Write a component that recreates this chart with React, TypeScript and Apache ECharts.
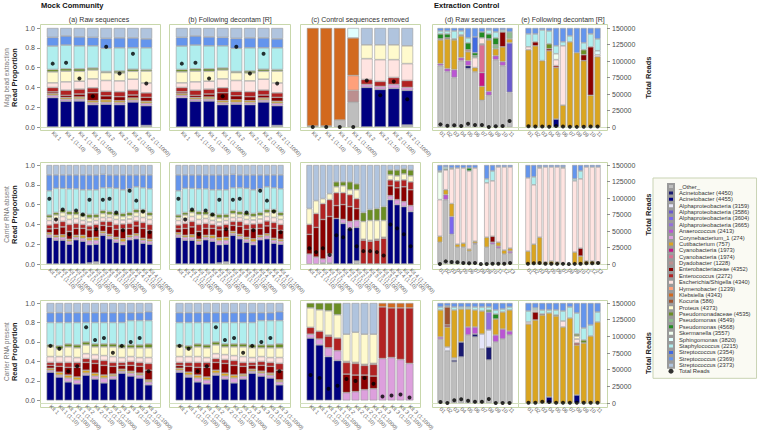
import React, { useEffect, useRef } from "react";
import * as echarts from "echarts";

// ---------- taxa & colours ----------
const TAXA = [
  "_Other_", "Acinetobacter (4450)", "Acinetobacter (4455)", "Alphaproteobacteria (3159)",
  "Alphaproteobacteria (3586)", "Alphaproteobacteria (3604)", "Alphaproteobacteria (3665)",
  "Anaerococcus (2413)", "Corynebacterium_1 (274)", "Cutibacterium (757)", "Cyanobacteria (1973)",
  "Cyanobacteria (1974)", "Dyadobacter (1228)", "Enterobacteriaceae (4352)", "Enterococcus (2272)",
  "Escherichia/Shigella (4340)", "Hymenobacter (1239)", "Klebsiella (4343)", "Kocuria (586)",
  "Proteus (4373)", "Pseudomonadaceae (4535)", "Pseudomonas (4549)", "Pseudomonas (4568)",
  "Skermanella (3557)", "Sphingomonas (3820)", "Staphylococcus (2215)", "Streptococcus (2354)",
  "Streptococcus (2369)", "Streptococcus (2373)",
];
const TAXON_COLORS = [
  "#bebebe", "#191970", "#000080", "#e6e6fa", "#6a5acd", "#7b68ee", "#9370db", "#ba55d3",
  "#dda0dd", "#daa520", "#c71585", "#db7093", "#bc8f8f", "#8b0000", "#b22222", "#ffe4e1",
  "#ffa07a", "#d2691e", "#a0522d", "#fffacd", "#6b8e23", "#8fbc8f", "#228b22", "#f0fff0",
  "#e0ffff", "#afeeee", "#4169e1", "#6495ed", "#b0c4de",
];

// ---------- category labels ----------
const KIT8 = ["Kit 1", "Kit 1 (1:10)", "Kit 1 (1:100)", "Kit 1 (1:1000)", "Kit 2", "Kit 2 (1:10)", "Kit 2 (1:100)", "Kit 2 (1:1000)"];
const KIT16 = ["Kit 1", "Kit 1 (1:10)", "Kit 1 (1:100)", "Kit 1 (1:1000)", "Kit 2", "Kit 2 (1:10)", "Kit 2 (1:100)", "Kit 2 (1:1000)",
  "Kit 3", "Kit 3 (1:10)", "Kit 3 (1:100)", "Kit 3 (1:1000)", "Kit 4", "Kit 4 (1:10)", "Kit 4 (1:100)", "Kit 4 (1:1000)"];
const KIT12 = ["Kit 1", "Kit 1 (1:10)", "Kit 1 (1:100)", "Kit 1 (1:1000)", "Kit 2", "Kit 2 (1:10)", "Kit 2 (1:100)", "Kit 2 (1:1000)",
  "Kit 3", "Kit 3 (1:10)", "Kit 3 (1:100)", "Kit 3 (1:1000)"];
const EXT11 = ["01", "02", "03", "04", "05", "06", "07", "08", "09", "10", "11"];
const EXT13 = ["01", "02", "03", "04", "05", "06", "07", "08", "09", "10", "11", "12", "13"];

// ---------- mock community (a)/(b) ----------
const MOCK_KEYS = ["_Other_", "Acinetobacter (4455)", "Corynebacterium_1 (274)", "Cutibacterium (757)",
  "Enterobacteriaceae (4352)", "Enterococcus (2272)", "Escherichia/Shigella (4340)", "Proteus (4373)",
  "Pseudomonadaceae (4535)", "Staphylococcus (2215)", "Streptococcus (2369)", "Streptococcus (2373)"];

const MAG_MOCK = [
  [0, .297, .024, .017, .017, .044, .047, .111, .024, .237, .087, .095],
  [0, .26, .02, .017, .023, .052, .084, .108, .024, .24, .091, .081],
  [0, .263, .02, .02, .03, .05, .08, .1, .025, .232, .09, .09],
  [0, .226, .02, .02, .08, .05, .09, .09, .02, .224, .085, .095],
  [0, .23, .02, .025, .04, .045, .11, .08, .01, .235, .1, .105],
  [0, .226, .02, .02, .04, .05, .11, .08, .02, .234, .1, .1],
  [0, .253, .02, .02, .03, .05, .11, .08, .02, .217, .1, .1],
  [.015, .2, .025, .02, .04, .045, .1, .12, .015, .22, .09, .11],
];
const MAG_MOCK_READS = [96000, 97500, 73500, 46500, 121500, 81000, 111000, 66000];

const ABSENT_MOCK = [
  [0, .27, .025, .02, .04, .04, .045, .03, .025, .245, .16, .1],
  [0, .24, .03, .02, .07, .05, .05, .035, .025, .245, .135, .1],
  [0, .24, .03, .025, .08, .055, .05, .04, .03, .215, .135, .1],
  [0, .2, .03, .02, .08, .07, .05, .05, .03, .23, .14, .1],
  [0, .245, .025, .02, .07, .05, .05, .04, .03, .23, .14, .1],
  [0, .23, .03, .03, .07, .04, .04, .04, .03, .24, .15, .1],
  [.01, .185, .04, .03, .08, .04, .04, .04, .035, .25, .15, .1],
  [.02, .18, .04, .03, .08, .05, .04, .03, .03, .25, .15, .1],
  [0, .29, .02, .02, .06, .04, .04, .04, .03, .23, .135, .095],
  [0, .255, .025, .02, .08, .05, .04, .03, .03, .24, .13, .1],
  [0, .22, .03, .02, .08, .05, .05, .04, .03, .245, .135, .1],
  [0, .195, .03, .03, .1, .05, .04, .035, .03, .24, .15, .1],
  [0, .245, .025, .02, .07, .05, .045, .035, .03, .24, .14, .1],
  [0, .255, .03, .02, .08, .05, .045, .04, .03, .23, .12, .1],
  [0, .21, .03, .02, .1, .06, .05, .05, .03, .22, .13, .1],
  [0, .2, .03, .02, .09, .06, .05, .04, .03, .24, .14, .1],
];
const ABSENT_MOCK_READS = [99000, 67500, 82500, 45000, 81000, 75000, 97500, 52500, 97500, 99000, 78000, 51000, 111000, 96000, 79500, 48000];

const PRESENT_MOCK = [
  [0, .29, .02, .02, .03, .03, .06, .1, .02, .23, .1, .1],
  [0, .24, .02, .03, .06, .04, .06, .08, .03, .24, .1, .1],
  [0, .19, .04, .03, .08, .05, .06, .1, .03, .22, .1, .1],
  [0, .17, .04, .03, .1, .05, .05, .1, .03, .23, .1, .1],
  [0, .26, .02, .03, .08, .04, .05, .09, .03, .2, .1, .1],
  [0, .22, .03, .03, .1, .04, .05, .08, .03, .22, .1, .1],
  [0, .18, .05, .03, .1, .05, .05, .09, .03, .22, .1, .1],
  [0, .22, .03, .02, .08, .04, .06, .1, .03, .22, .1, .1],
  [0, .28, .02, .02, .04, .03, .05, .1, .03, .23, .1, .1],
  [0, .25, .03, .02, .06, .04, .05, .09, .03, .25, .08, .1],
  [0, .23, .03, .02, .07, .04, .05, .1, .03, .25, .08, .1],
  [0, .16, .03, .02, .1, .07, .06, .1, .04, .24, .09, .09],
];
const PRESENT_MOCK_READS = [84000, 79500, 45000, 52500, 112500, 93000, 96000, 73500, 84000, 90000, 96000, 45000];

// ---------- mock community (c) control sequences removed ----------
const MAG_CTRL_KEYS = ["_Other_", "Acinetobacter (4455)", "Corynebacterium_1 (274)", "Dyadobacter (1228)",
  "Enterococcus (2272)", "Escherichia/Shigella (4340)", "Hymenobacter (1239)", "Klebsiella (4343)",
  "Proteus (4373)", "Sphingomonas (3820)", "Streptococcus (2373)"];
const MAG_CTRL = [
  [.01, 0, 0, 0, 0, 0, 0, .99, 0, 0, 0],
  [.01, 0, 0, 0, 0, 0, 0, .99, 0, 0, 0],
  [.07, 0, 0, 0, 0, 0, 0, .93, 0, 0, 0],
  [.25, 0, 0, .12, 0, 0, .15, .38, 0, .1, 0],
  [0, .4, .03, 0, .05, .21, 0, 0, .14, 0, .17],
  [0, .38, .03, 0, .05, .22, 0, 0, .15, 0, .17],
  [0, .39, .04, 0, .07, .18, 0, 0, .15, 0, .17],
  [.02, .35, .03, 0, .07, .17, 0, 0, .18, 0, .18],
];
const MAG_CTRL_READS = [0, 0, 0, 0, 70500, 48000, 69000, 42000];

const ABSENT_CTRL_KEYS = ["_Other_", "Acinetobacter (4455)", "Corynebacterium_1 (274)", "Enterobacteriaceae (4352)",
  "Enterococcus (2272)", "Klebsiella (4343)", "Proteus (4373)", "Pseudomonadaceae (4535)", "Streptococcus (2373)"];
const ABSENT_CTRL = [
  [0, 0, .1, .2, .1, 0, .16, 0, .44],
  [0, 0, .07, .3, .14, 0, .13, 0, .36],
  [.01, 0, .04, .4, .16, 0, .05, 0, .34],
  [.01, 0, .09, .38, .17, 0, .06, 0, .29],
  [0, .46, 0, .13, .13, 0, .06, .05, .17],
  [0, .41, .04, .15, .12, 0, .07, .04, .17],
  [0, .36, .07, .15, .12, 0, .05, .08, .17],
  [.03, .34, .07, .12, .1, 0, .09, .06, .19],
  [0, 0, 0, 0, .24, .01, .18, .09, .48],
  [0, 0, 0, 0, .23, .01, .2, .11, .45],
  [0, 0, 0, 0, .24, .01, .19, .12, .44],
  [0, 0, 0, 0, .26, .01, .17, .14, .42],
  [0, .65, .04, .1, .06, 0, .05, .05, .05],
  [0, .6, .05, .12, .07, 0, .05, .06, .05],
  [0, .58, .05, .15, .07, 0, .06, .05, .04],
  [0, .53, .06, .16, .08, 0, .06, .06, .05],
];
const ABSENT_CTRL_READS = [24000, 18000, 24000, 13500, 43500, 40500, 52500, 27000, 19500, 19500, 18000, 12750, 60000, 54000, 45000, 27000];

const PRESENT_CTRL_KEYS = ["Acinetobacter (4455)", "Corynebacterium_1 (274)", "Enterobacteriaceae (4352)",
  "Enterococcus (2272)", "Klebsiella (4343)", "Proteus (4373)", "Pseudomonadaceae (4535)", "Streptococcus (2373)"];
const PRESENT_CTRL = [
  [.64, .04, 0, .07, 0, .2, .05, 0],
  [.57, .06, 0, .08, 0, .22, .07, 0],
  [.45, .09, 0, .12, .01, .25, .08, 0],
  [.41, .1, 0, .13, 0, .24, .12, 0],
  [0, .08, .19, .12, .01, .28, 0, .32],
  [0, .09, .17, .12, .01, .31, 0, .3],
  [0, .11, .15, .1, .01, .31, 0, .32],
  [0, .12, .13, .12, .01, .3, 0, .32],
  [0, .43, 0, .53, .04, 0, 0, 0],
  [0, .44, 0, .51, .05, 0, 0, 0],
  [0, .42, 0, .53, .05, 0, 0, 0],
  [0, .38, 0, .57, .05, 0, 0, 0],
];
const PRESENT_CTRL_READS = [39000, 34500, 18000, 22500, 33000, 30000, 34500, 25500, 6000, 7500, 9000, 4500];

// ---------- extraction control (d) raw ----------
const MAG_EXT_KEYS = ["_Other_", "Acinetobacter (4450)", "Alphaproteobacteria (3586)", "Anaerococcus (2413)",
  "Cutibacterium (757)", "Cyanobacteria (1973)", "Cyanobacteria (1974)", "Dyadobacter (1228)",
  "Enterobacteriaceae (4352)", "Escherichia/Shigella (4340)", "Pseudomonadaceae (4535)", "Pseudomonas (4549)",
  "Pseudomonas (4568)", "Staphylococcus (2215)", "Streptococcus (2354)", "Streptococcus (2369)"];
const MAG_EXT = [
  [.62, 0, 0, .02, .24, 0, 0, .01, 0, 0, 0, 0, .05, .03, 0, .03],
  [.56, 0, 0, .03, .3, 0, 0, 0, .01, 0, 0, 0, .04, .03, 0, .03],
  [.5, 0, 0, .08, .3, 0, 0, 0, 0, 0, .01, 0, 0, .08, 0, .03],
  [.67, 0, 0, .03, .22, 0, 0, .01, 0, 0, 0, 0, 0, .04, 0, .03],
  [.59, .03, 0, .05, .09, 0, 0, .02, 0, 0, 0, 0, .07, .05, 0, .1],
  [.557, 0, 0, 0, .043, 0, 0, 0, 0, .1, 0, .02, .03, 0, .16, .09],
  [.27, 0, 0, 0, .14, .14, .28, .01, 0, .06, 0, 0, .06, 0, 0, .04],
  [.32, 0, 0, .04, .52, 0, 0, .01, 0, 0, 0, 0, .05, .04, 0, .02],
  [.68, 0, 0, .04, .07, 0, 0, 0, 0, 0, 0, .04, .07, .06, 0, .04],
  [.62, 0, 0, .04, .15, 0, 0, 0, .15, 0, 0, 0, 0, .02, 0, .02],
  [.35, 0, .5, 0, .04, 0, 0, 0, 0, 0, 0, .07, 0, 0, 0, .04],
];
const MAG_EXT_READS = [4000, 2000, 2500, 1500, 5000, 3000, 3000, 0, 1000, 1500, 9000];

const ABSENT_EXT_KEYS = ["_Other_", "Alphaproteobacteria (3604)", "Anaerococcus (2413)", "Cutibacterium (757)",
  "Enterobacteriaceae (4352)", "Escherichia/Shigella (4340)", "Pseudomonas (4568)", "Skermanella (3557)",
  "Staphylococcus (2215)", "Streptococcus (2369)"];
const ABSENT_EXT = [
  [.22, 0, 0, .06, 0, .37, 0, .28, .01, .06],
  [.65, 0, .05, .05, 0, .2, .01, 0, .02, .02],
  [.3, .18, 0, .13, 0, .35, 0, 0, .01, .03],
  [.17, 0, 0, .03, 0, .77, 0, 0, 0, .03],
  [.17, 0, 0, .04, 0, .76, 0, 0, 0, .03],
  [.13, 0, 0, .02, 0, .79, .03, 0, 0, .03],
  [.2, 0, .01, .02, 0, .74, 0, 0, 0, .03],
  [0, 0, 0, 0, 0, 0, 0, 0, 0, 0],
  [.17, 0, 0, .1, 0, .55, 0, 0, .04, .14],
  [.2, 0, .02, 0, .06, .56, 0, 0, .1, .06],
  [.16, 0, .02, .04, 0, .76, 0, 0, 0, .02],
  [.1, 0, 0, .04, 0, .84, 0, 0, 0, .02],
  [.11, 0, .02, .03, 0, .82, 0, 0, 0, .02],
];
const ABSENT_EXT_READS = [0, 4000, 3000, 2500, 1500, 1000, 1500, 0, 0, 500, 500, 500, 1500];

const PRESENT_EXT_KEYS = ["_Other_", "Acinetobacter (4450)", "Alphaproteobacteria (3159)", "Alphaproteobacteria (3665)",
  "Anaerococcus (2413)", "Cutibacterium (757)", "Enterobacteriaceae (4352)", "Kocuria (586)",
  "Pseudomonas (4568)", "Staphylococcus (2215)", "Streptococcus (2369)"];
const PRESENT_EXT = [
  [.64, 0, 0, 0, .02, .27, 0, 0, 0, .03, .04],
  [.52, 0, .04, 0, 0, .2, .02, .18, 0, .01, .03],
  [.41, .02, .02, 0, 0, .48, 0, 0, 0, .03, .04],
  [.46, .15, 0, 0, 0, .33, 0, 0, 0, .02, .04],
  [.68, 0, 0, 0, .08, .18, 0, 0, 0, .02, .04],
  [.66, .03, 0, 0, .07, .17, 0, 0, 0, .03, .04],
  [.54, 0, .15, 0, 0, .23, 0, 0, 0, .04, .04],
  [.43, .13, .17, .18, 0, 0, 0, 0, .02, .03, .04],
  [.61, 0, 0, 0, .07, .16, 0, 0, .05, .04, .07],
  [.64, 0, 0, 0, .1, .17, 0, 0, 0, .03, .06],
  [.68, 0, 0, 0, .04, .21, 0, 0, 0, .03, .04],
];
const PRESENT_EXT_READS = [1500, 0, 4000, 5500, 3500, 2000, 2000, 6000, 0, 0, 0];

// ---------- extraction control (e) following decontam ----------
const MAG_DEC_KEYS = ["Acinetobacter (4455)", "Cutibacterium (757)", "Enterobacteriaceae (4352)", "Enterococcus (2272)",
  "Escherichia/Shigella (4340)", "Pseudomonadaceae (4535)", "Skermanella (3557)", "Sphingomonas (3820)",
  "Staphylococcus (2215)", "Streptococcus (2369)"];
const MAG_DEC = [
  [0, .78, 0, 0, .03, 0, 0, 0, .13, .06],
  [0, .82, .04, 0, 0, 0, 0, 0, .08, .06],
  [0, .67, 0, 0, 0, 0, 0, 0, .31, .02],
  [0, .77, .02, 0, 0, .05, 0, 0, .13, .03],
  [.08, .52, 0, .02, .06, 0, .06, 0, .08, .18],
  [0, .22, 0, 0, .6, 0, 0, 0, .04, .14],
  [0, .86, 0, 0, 0, 0, 0, 0, .06, .08],
  [0, .75, 0, 0, 0, 0, 0, 0, 0, .25],
  [0, .67, .06, 0, 0, .05, 0, 0, .07, .15],
  [0, .32, .49, 0, 0, 0, 0, 0, .13, .06],
  [0, .71, 0, 0, .02, 0, 0, .04, .12, .11],
];
const MAG_DEC_READS = [1000, 800, 800, 500, 1500, 800, 500, 200, 300, 800, 600];

const ABSENT_DEC_KEYS = ["Cutibacterium (757)", "Enterobacteriaceae (4352)", "Escherichia/Shigella (4340)",
  "Staphylococcus (2215)", "Streptococcus (2369)"];
const ABSENT_DEC = [
  [.13, 0, .74, 0, .13],
  [.2, 0, .6, .08, .12],
  [.27, 0, .7, .01, .02],
  [.02, 0, .96, 0, .02],
  [.03, 0, .95, 0, .02],
  [.02, 0, .96, 0, .02],
  [.01, 0, .96, .01, .02],
  [0, 0, 0, 0, 0],
  [.12, 0, .72, .02, .14],
  [.08, .08, .7, .08, .06],
  [.03, 0, .95, 0, .02],
  [.03, 0, .95, 0, .02],
  [.02, 0, .96, 0, .02],
];
const ABSENT_DEC_READS = [500, 1000, 1500, 500, 500, 200, 200, 0, 200, 500, 1000, 1000, 1500];

const PRESENT_DEC_KEYS = ["Acinetobacter (4455)", "Cutibacterium (757)", "Enterobacteriaceae (4352)", "Enterococcus (2272)",
  "Escherichia/Shigella (4340)", "Proteus (4373)", "Pseudomonadaceae (4535)", "Staphylococcus (2215)", "Streptococcus (2369)"];
const PRESENT_DEC = [
  [0, .79, 0, 0, .02, 0, 0, .11, .08],
  [0, .83, .08, 0, .02, 0, 0, .02, .05],
  [0, .88, .01, 0, 0, 0, 0, .04, .07],
  [.06, .84, 0, 0, 0, 0, 0, .03, .07],
  [0, .87, 0, 0, 0, 0, .01, .05, .07],
  [0, .76, 0, 0, .06, 0, 0, .1, .08],
  [0, .85, 0, 0, 0, 0, 0, .11, .04],
  [.08, .5, 0, .02, .04, .03, .02, .21, .1],
  [0, .6, 0, 0, 0, 0, .03, .12, .25],
  [0, .67, 0, 0, 0, 0, 0, .11, .22],
  [0, .81, 0, 0, 0, 0, 0, .1, .09],
];
const PRESENT_DEC_READS = [500, 500, 2000, 1500, 500, 500, 500, 500, 500, 500, 500];

// ---------- text ----------
const ROW_NAMES = ["Mag bead extraction", "Carrier RNA absent", "Carrier RNA present"];
const PANEL_TITLES = ["(a) Raw sequences", "(b) Following decontam [R]", "(c) Control sequences removed", "(d) Raw sequences", "(e) Following decontam [R]"];

// ---------- layout (pixels) ----------
const GRID_ROWS = [[28, 127], [165, 264], [303, 403]];
const GRID_COLS = [[46, 153], [175, 284], [306, 414], [437, 513], [525, 601]];
const FRAME_ROWS = [[24, 130], [162, 269], [300, 407]];
const FRAME_COLS = [[40, 160], [169, 290], [300, 420], [432, 518], [518, 607]];
const TITLE_X = [99, 230, 360, 475, 563];

type Panel = { keys: string[]; rows: number[][]; reads: number[]; labels: string[] };

const PANELS: Panel[][] = [
  [
    { keys: MOCK_KEYS, rows: MAG_MOCK, reads: MAG_MOCK_READS, labels: KIT8 },
    { keys: MOCK_KEYS, rows: MAG_MOCK, reads: MAG_MOCK_READS, labels: KIT8 },
    { keys: MAG_CTRL_KEYS, rows: MAG_CTRL, reads: MAG_CTRL_READS, labels: KIT8 },
    { keys: MAG_EXT_KEYS, rows: MAG_EXT, reads: MAG_EXT_READS, labels: EXT11 },
    { keys: MAG_DEC_KEYS, rows: MAG_DEC, reads: MAG_DEC_READS, labels: EXT11 },
  ],
  [
    { keys: MOCK_KEYS, rows: ABSENT_MOCK, reads: ABSENT_MOCK_READS, labels: KIT16 },
    { keys: MOCK_KEYS, rows: ABSENT_MOCK, reads: ABSENT_MOCK_READS, labels: KIT16 },
    { keys: ABSENT_CTRL_KEYS, rows: ABSENT_CTRL, reads: ABSENT_CTRL_READS, labels: KIT16 },
    { keys: ABSENT_EXT_KEYS, rows: ABSENT_EXT, reads: ABSENT_EXT_READS, labels: EXT13 },
    { keys: ABSENT_DEC_KEYS, rows: ABSENT_DEC, reads: ABSENT_DEC_READS, labels: EXT13 },
  ],
  [
    { keys: MOCK_KEYS, rows: PRESENT_MOCK, reads: PRESENT_MOCK_READS, labels: KIT12 },
    { keys: MOCK_KEYS, rows: PRESENT_MOCK, reads: PRESENT_MOCK_READS, labels: KIT12 },
    { keys: PRESENT_CTRL_KEYS, rows: PRESENT_CTRL, reads: PRESENT_CTRL_READS, labels: KIT12 },
    { keys: PRESENT_EXT_KEYS, rows: PRESENT_EXT, reads: PRESENT_EXT_READS, labels: EXT11 },
    { keys: PRESENT_DEC_KEYS, rows: PRESENT_DEC, reads: PRESENT_DEC_READS, labels: EXT11 },
  ],
];

const FONT = "Liberation Sans, Arial, Helvetica, sans-serif";
const FRAME_COLOR = "#c8d7ab";

function colorOf(name: string) {
  return TAXON_COLORS[TAXA.indexOf(name)];
}

function buildOption() {
  const grid: any[] = [];
  const xAxis: any[] = [];
  const yAxis: any[] = [];
  const series: any[] = [];
  const graphic: any[] = [];

  PANELS.forEach((row, r) => {
    row.forEach((p, c) => {
      const gi = r * 5 + c;
      grid.push({
        left: GRID_COLS[c][0], width: GRID_COLS[c][1] - GRID_COLS[c][0],
        top: GRID_ROWS[r][0], height: GRID_ROWS[r][1] - GRID_ROWS[r][0],
      });
      xAxis.push({
        gridIndex: gi, type: "category", data: p.labels,
        axisLine: { show: false }, axisTick: { show: false },
        axisLabel: { rotate: -45, fontSize: 5.5, color: "#666", interval: 0, margin: 5, hideOverlap: false },
      });
      yAxis.push({
        gridIndex: gi, type: "value", min: 0, max: 1, interval: 0.2, show: c === 0,
        position: "left", offset: 6,
        axisLine: { show: false },
        axisTick: { show: true, length: 3, lineStyle: { color: "#777", width: 0.8 } },
        axisLabel: { fontSize: 7, color: "#4d4d4d", margin: 5, formatter: (v: number) => v.toFixed(1) },
        splitLine: { show: false },
        name: c === 0 ? `{a|${ROW_NAMES[r]}}\n{b|Read Proportion}` : "",
        nameLocation: "middle", nameGap: 21,
        nameTextStyle: {
          rich: {
            a: { fontSize: 6.5, color: "#777", lineHeight: 8, fontFamily: FONT },
            b: { fontSize: 7.5, color: "#222", fontWeight: "bold", lineHeight: 9, fontFamily: FONT },
          },
        },
      });
      yAxis.push({
        gridIndex: gi, type: "value", min: 0, max: 150000, interval: 25000, show: c === 4,
        position: "right", offset: 6,
        axisLine: { show: false },
        axisTick: { show: true, length: 3, lineStyle: { color: "#777", width: 0.8 } },
        axisLabel: { fontSize: 7, color: "#4d4d4d", margin: 5, formatter: (v: number) => String(v) },
        splitLine: { show: false },
        name: c === 4 ? "Total Reads" : "",
        nameLocation: "middle", nameGap: 37,
        nameTextStyle: { fontSize: 7.5, fontWeight: "bold", color: "#222", fontFamily: FONT },
      });
      p.keys.forEach((k, j) => {
        series.push({
          type: "bar", name: k, xAxisIndex: gi, yAxisIndex: 2 * gi, stack: "s" + gi,
          barCategoryGap: "13%",
          data: p.rows.map((rw) => (rw[j] ? rw[j] : null)),
          itemStyle: { color: colorOf(k), borderColor: "#9a9a9a", borderWidth: 0.6 },
          emphasis: { disabled: true },
        });
      });
      series.push({
        type: "scatter", name: "Total Reads", xAxisIndex: gi, yAxisIndex: 2 * gi + 1,
        data: p.reads, symbolSize: 4, itemStyle: { color: "#000" }, z: 5,
      });

      // panel frame and baseline
      graphic.push({
        type: "rect", silent: true, z: 0,
        shape: { x: FRAME_COLS[c][0] + 0.5, y: FRAME_ROWS[r][0] + 0.5, width: FRAME_COLS[c][1] - FRAME_COLS[c][0], height: FRAME_ROWS[r][1] - FRAME_ROWS[r][0] },
        style: { fill: "none", stroke: FRAME_COLOR, lineWidth: 1 },
      });
      graphic.push({
        type: "line", silent: true, z: 0,
        shape: { x1: FRAME_COLS[c][0], y1: GRID_ROWS[r][1] + 0.5, x2: FRAME_COLS[c][1], y2: GRID_ROWS[r][1] + 0.5 },
        style: { stroke: "#d3dfbf", lineWidth: 1 },
      });
    });
  });

  PANEL_TITLES.forEach((t, c) => {
    graphic.push({
      type: "text", x: TITLE_X[c], y: 19, silent: true,
      style: { text: t, fontSize: 7, fill: "#333", textAlign: "center", textVerticalAlign: "middle", fontFamily: FONT },
    });
  });
  graphic.push({
    type: "text", x: 41, y: 5, silent: true,
    style: { text: "Mock Community", fontSize: 7.5, fontWeight: "bold", fill: "#111", textVerticalAlign: "middle", fontFamily: FONT },
  });
  graphic.push({
    type: "text", x: 434, y: 5, silent: true,
    style: { text: "Extraction Control", fontSize: 7.5, fontWeight: "bold", fill: "#111", textVerticalAlign: "middle", fontFamily: FONT },
  });

  const legendData: any[] = TAXA.map((n) => ({ name: n, icon: "rect" }));
  legendData.push({ name: "Total Reads", icon: "circle" });

  return {
    animation: false,
    textStyle: { fontFamily: FONT },
    grid, xAxis, yAxis, series, graphic,
    legend: {
      data: legendData, orient: "vertical", left: 653, top: 178,
      padding: [5, 6, 4, 14], itemWidth: 6, itemHeight: 5, itemGap: -0.62,
      backgroundColor: "#fafaf3", borderColor: "#c9d3b4", borderWidth: 1,
      textStyle: { fontSize: 5.8, color: "#333", lineHeight: 6.3, fontFamily: FONT },
      selectedMode: false,
    },
  };
}

export default function App() {
  const ref = useRef<HTMLDivElement>(null);
  useEffect(() => {
    document.body.style.margin = "0";
    const chart = echarts.init(ref.current!, null, { renderer: "svg" });
    chart.setOption(buildOption() as any);
    return () => chart.dispose();
  }, []);
  return <div ref={ref} style={{ width: 760, height: 433 }} />;
}
